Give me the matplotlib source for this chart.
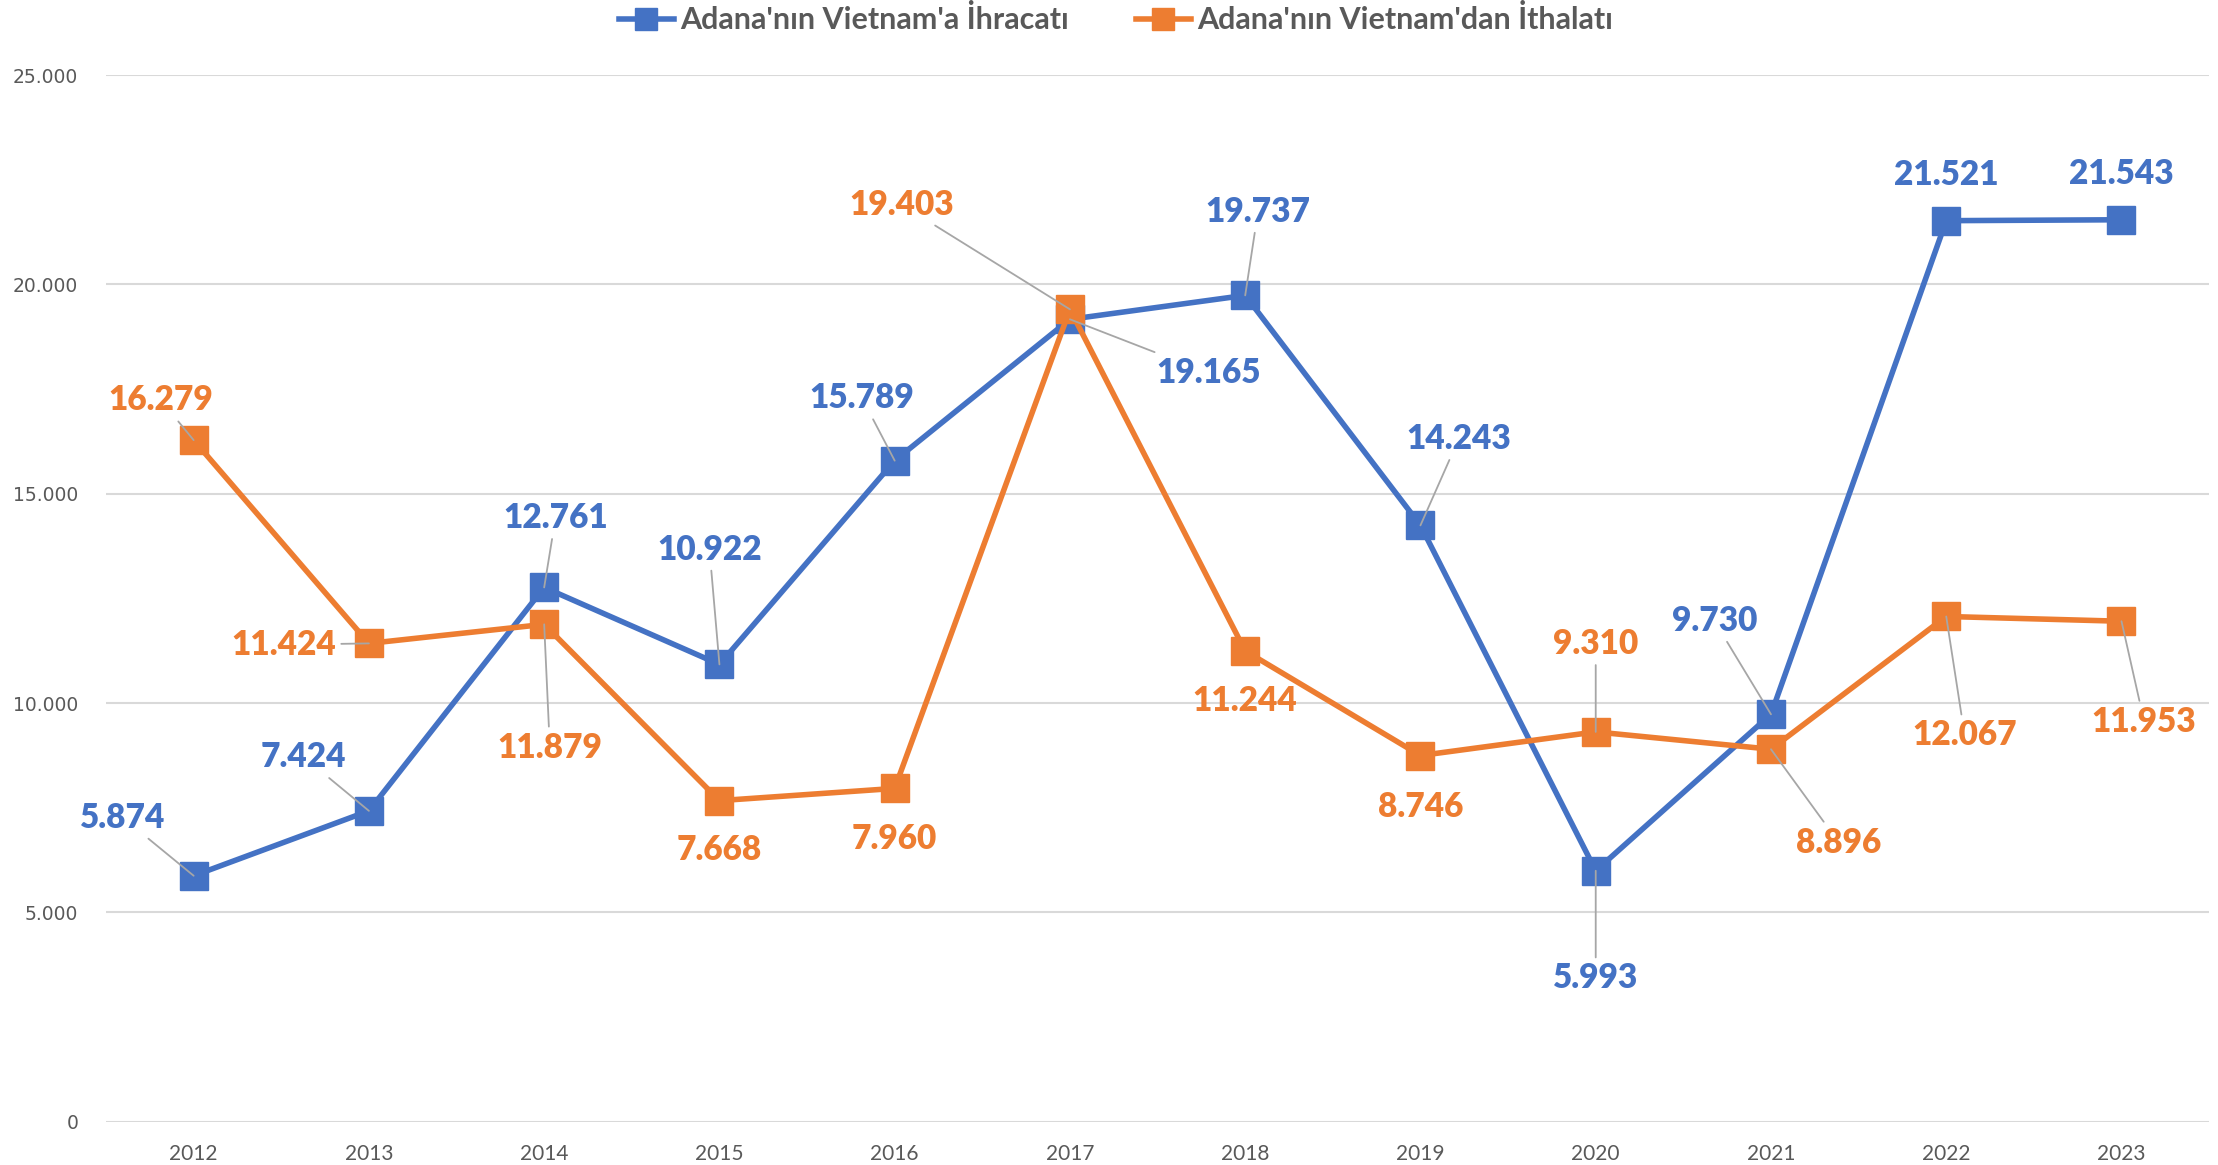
import numpy as np
import matplotlib.pyplot as plt
from matplotlib.ticker import FuncFormatter

plt.rcParams['font.family'] = ['Lato', 'DejaVu Sans']

years = ['2012', '2013', '2014', '2015', '2016', '2017',
         '2018', '2019', '2020', '2021', '2022', '2023']
ihracat = [5874, 7424, 12761, 10922, 15789, 19165, 19737, 14243, 5993, 9730, 21521, 21543]
ithalat = [16279, 11424, 11879, 7668, 7960, 19403, 11244, 8746, 9310, 8896, 12067, 11953]
yticks = [0, 5000, 10000, 15000, 20000, 25000]

names = ["Adana'nın Vietnam'a İhracatı", "Adana'nın Vietnam'dan İthalatı"]
BLUE = '#4472C4'
ORANGE = '#ED7D31'
GREY = '#595959'

# label offsets in points (dx, dy) and whether a leader line is drawn
blue_off = [(-50, 41), (-46, 38), (8, 49), (-7, 81), (-23, 44), (98, -38),
            (9, 59), (27, 61), (0, -76), (-40, 66), (0, 32), (0, 32)]
blue_lead = [1, 1, 1, 1, 1, 1, 1, 1, 1, 1, 0, 0]
orange_off = [(-23, 28), (-60, -1), (4, -87), (0, -35), (0, -36), (-119, 74),
              (0, -35), (0, -36), (0, 62), (48, -66), (13, -84), (16, -71)]
orange_lead = [1, 1, 1, 0, 0, 1, 0, 0, 1, 1, 1, 1]

fig = plt.figure(figsize=[22.18, 11.65], dpi=100)
ax = fig.add_axes([0.0478, 0.0372, 0.9482, 0.8984])

x = np.arange(len(years))
ax.plot(x, ihracat, color=BLUE, lw=4, marker='s', ms=20, label=names[0], zorder=2)
ax.plot(x, ithalat, color=ORANGE, lw=4, marker='s', ms=20, label=names[1], zorder=2)

def fmt(v, pos=None):
    return f"{int(v):,}".replace(",", ".")

def labels(vals, offs, lead, color):
    for i, v in enumerate(vals):
        dx, dy = offs[i]
        ap = None
        if lead[i]:
            ap = dict(arrowstyle='-', color='#A6A6A6', lw=1.3, shrinkA=0, shrinkB=0)
        ax.annotate(fmt(v), (x[i], v), xytext=(dx * 1.02, dy * 1.02),
                    textcoords='offset points', ha='center', va='center',
                    fontsize=24, fontweight='heavy', color=color,
                    bbox=dict(boxstyle='square,pad=0.15', fc='none', ec='none'),
                    arrowprops=ap, zorder=4)

labels(ihracat, blue_off, blue_lead, BLUE)
labels(ithalat, orange_off, orange_lead, ORANGE)

ax.set_xlim(-0.5, len(years) - 0.5)
ax.set_ylim(0, 25000)
ax.set_xticks(x)
ax.set_xticklabels(years)
ax.set_yticks(yticks)
ax.yaxis.set_major_formatter(FuncFormatter(fmt))
for t in ax.get_yticklabels():
    t.set_family('DejaVu Sans')
ax.tick_params(axis='y', length=0, pad=20, labelsize=13.5, labelcolor=GREY)
ax.tick_params(axis='x', length=0, pad=16, labelsize=15, labelcolor=GREY)
ax.grid(axis='y', color='#D9D9D9', lw=1.5)
ax.set_axisbelow(True)
for s in ax.spines.values():
    s.set_visible(False)

fig.legend(loc='center', bbox_to_anchor=(0.503, 0.983), ncol=2, frameon=False,
           prop=dict(size=22, weight='bold'), labelcolor=GREY,
           handlelength=1.8, handletextpad=0.2, columnspacing=2.2, markerscale=0.8)

plt.savefig('out.png', dpi=100)
